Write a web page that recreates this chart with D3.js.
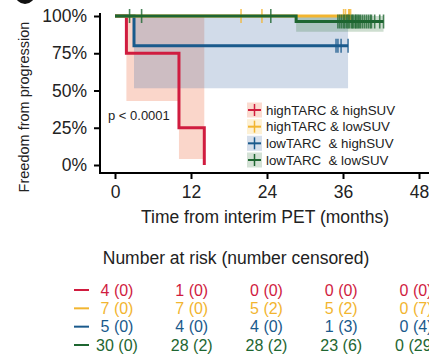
<!DOCTYPE html>
<html>
<head>
<meta charset="utf-8">
<script src="https://cdn.jsdelivr.net/npm/d3@7"></script>
<style>
  body { margin: 0; background: #fff; }
  svg text { font-family: "Liberation Sans", Arial, sans-serif; }
</style>
</head>
<body>
<div id="chart"></div>
<script>
// groups and colours
var groups = ["highTARC & highSUV", "highTARC & lowSUV", "lowTARC  & highSUV", "lowTARC  & lowSUV"];
var lineColors = ["#d01c3f", "#f2b530", "#1a5a8c", "#1e6631"];
var bandColors = ["#f4a58a", "#f8d27a", "#5b7fb0", "#3a7a45"];
var bandOpacity = [0.45, 0.35, 0.28, 0.25];

// step curves: [time (months), survival] at each change, last point = end of follow-up
var curveRed    = [[0, 1], [1.8, 0.75], [10.1, 0.25], [14.1, 0], [14.1, 0]];
var curveYellow = [[0, 1], [37.2, 1]];
var curveBlue   = [[0, 1], [3.0, 0.8], [36.8, 0.8]];
var curveGreen  = [[0, 1], [28.6, 0.963], [42.4, 0.963]];

// confidence bands: [time, lower, upper]
var bandRed    = [[1.8, 0.43, 1], [10.1, 0.04, 1], [14.1, 0.04, 1]];
var bandYellow = [];
var bandBlue   = [[3.0, 0.515, 1], [36.8, 0.515, 1]];
var bandGreen  = [[28.6, 0.895, 1], [42.4, 0.895, 1]];

// censoring times
var censRed    = [];
var censYellow = [19.9, 23.2, 36.1, 36.4, 36.9, 37.0, 37.2];
var censBlue   = [34.9, 35.2, 35.7, 36.8];
var censGreen  = [2.3, 4.2, 24.6, 35.2, 35.5, 35.8, 36.1, 36.3, 36.6, 36.8, 37.0, 37.3, 37.5, 37.6,
                  37.9, 38.0, 38.2, 38.4, 38.6, 38.8, 39.1, 39.4, 39.7, 40.0, 40.3, 40.5, 41.0, 41.8, 42.4];

// number at risk table
var xTicks = [0, 12, 24, 36, 48];
var yTicks = [0, 0.25, 0.5, 0.75, 1];
var riskRed    = ["4 (0)", "1 (0)", "0 (0)", "0 (0)", "0 (0)"];
var riskYellow = ["7 (0)", "7 (0)", "5 (2)", "5 (2)", "0 (7)"];
var riskBlue   = ["5 (0)", "4 (0)", "4 (0)", "1 (3)", "0 (4)"];
var riskGreen  = ["30 (0)", "28 (2)", "28 (2)", "23 (6)", "0 (29)"];

var curves = [curveRed, curveYellow, curveBlue, curveGreen];
var bands = [bandRed, bandYellow, bandBlue, bandGreen];
var cens = [censRed, censYellow, censBlue, censGreen];
var risk = [riskRed, riskYellow, riskBlue, riskGreen];

var width = 429, height = 356;
var textCol = "#222";

var svg = d3.select("#chart")
  .append("svg")
    .attr("width", width)
    .attr("height", height);

// scales
var x = d3.scaleLinear().domain([0, 48]).range([115, 419]);
var y = d3.scaleLinear().domain([0, 1]).range([165, 16]);
// the risk table columns sit a little tighter than the axis
var xTable = d3.scaleLinear().domain([0, 48]).range([117, 416]);

// survival value at time t for a step curve
function survAt(curve, t) {
  var s = curve[0][1];
  curve.forEach(function(p) { if (p[0] <= t) s = p[1]; });
  return s;
}

// panel letter (cut off at the top)
svg.append("circle").attr("cx", 25).attr("cy", -6).attr("r", 10).attr("fill", "#111");

// confidence bands
var area = d3.area()
  .curve(d3.curveStepAfter)
  .x(function(d) { return x(d[0]); })
  .y0(function(d) { return y(d[1]); })
  .y1(function(d) { return y(d[2]); });

bands.forEach(function(b, i) {
  if (!b.length) return;
  svg.append("path")
    .datum(b)
    .attr("d", area)
    .attr("fill", bandColors[i])
    .attr("fill-opacity", bandOpacity[i]);
});

// survival lines, drawn red, blue, yellow, green
var line = d3.line()
  .curve(d3.curveStepAfter)
  .x(function(d) { return x(d[0]); })
  .y(function(d) { return y(d[1]); });

[0, 2, 1, 3].forEach(function(i) {
  svg.append("path")
    .datum(curves[i])
    .attr("d", line)
    .attr("fill", "none")
    .attr("stroke", lineColors[i])
    .attr("stroke-width", 3);

  svg.selectAll(".cens" + i)
    .data(cens[i])
    .enter()
    .append("line")
      .attr("x1", function(d) { return x(d); })
      .attr("x2", function(d) { return x(d); })
      .attr("y1", function(d) { return y(survAt(curves[i], d)) - 7; })
      .attr("y2", function(d) { return y(survAt(curves[i], d)) + 7; })
      .attr("stroke", lineColors[i])
      .attr("stroke-opacity", 0.8)
      .attr("stroke-width", 1.6);
});

// axes
var yAxis = svg.append("g")
  .attr("transform", "translate(100,0)")
  .call(d3.axisLeft(y).tickValues(yTicks).tickFormat(d3.format(".0%")).tickSize(6).tickPadding(7).tickSizeOuter(0));
yAxis.select(".domain").remove();
svg.append("line").attr("x1", 100).attr("x2", 100).attr("y1", 13).attr("y2", 173)
  .attr("stroke", "#000").attr("stroke-width", 2);

var xAxis = svg.append("g")
  .attr("transform", "translate(0,173)")
  .call(d3.axisBottom(x).tickValues(xTicks).tickSize(6).tickPadding(7).tickSizeOuter(0));
xAxis.select(".domain").remove();
svg.append("line").attr("x1", 99).attr("x2", 429).attr("y1", 173).attr("y2", 173)
  .attr("stroke", "#000").attr("stroke-width", 2);

svg.selectAll(".tick line").attr("stroke", "#000").attr("stroke-width", 2);
svg.selectAll(".tick text").attr("fill", textCol).style("font-size", "17.5px");

// axis titles
svg.append("text")
  .attr("transform", "translate(29,107) rotate(-90)")
  .attr("text-anchor", "middle")
  .attr("fill", textCol)
  .style("font-size", "14.5px")
  .text("Freedom from progression");

svg.append("text")
  .attr("x", 265)
  .attr("y", 223)
  .attr("text-anchor", "middle")
  .attr("fill", textCol)
  .style("font-size", "17.5px")
  .text("Time from interim PET (months)");

// p value
svg.append("text")
  .attr("x", 108)
  .attr("y", 120)
  .attr("fill", textCol)
  .style("font-size", "13px")
  .text("p < 0.0001");

// legend
var legY = d3.scalePoint().domain(groups).range([110, 160]);
var leg = svg.selectAll(".leg")
  .data(groups)
  .enter()
  .append("g")
    .attr("transform", function(d) { return "translate(247," + legY(d) + ")"; });

leg.append("rect")
  .attr("x", 0).attr("y", -7.5).attr("width", 15).attr("height", 15)
  .attr("fill", function(d, i) { return bandColors[i]; })
  .attr("fill-opacity", function(d, i) { return bandOpacity[i] * 0.9; });
leg.append("line")
  .attr("x1", 1).attr("x2", 14).attr("y1", 0).attr("y2", 0)
  .attr("stroke", function(d, i) { return lineColors[i]; })
  .attr("stroke-width", 2);
leg.append("line")
  .attr("x1", 7.5).attr("x2", 7.5).attr("y1", -6).attr("y2", 6)
  .attr("stroke", function(d, i) { return lineColors[i]; })
  .attr("stroke-width", 1.5);
leg.append("text")
  .attr("x", 19)
  .attr("dy", "0.36em")
  .attr("fill", textCol)
  .style("font-size", "13.3px")
  .style("white-space", "pre")
  .attr("xml:space", "preserve")
  .text(function(d) { return d; });

// risk table
svg.append("text")
  .attr("x", 236)
  .attr("y", 264)
  .attr("text-anchor", "middle")
  .attr("fill", textCol)
  .style("font-size", "17.5px")
  .text("Number at risk (number censored)");

var rowY = d3.scalePoint().domain(groups).range([290, 345]);

groups.forEach(function(g, i) {
  svg.append("line")
    .attr("x1", 74).attr("x2", 89)
    .attr("y1", rowY(g)).attr("y2", rowY(g))
    .attr("stroke", lineColors[i])
    .attr("stroke-width", 2);

  svg.selectAll(".risk" + i)
    .data(risk[i])
    .enter()
    .append("text")
      .attr("x", function(d, j) { return xTable(xTicks[j]); })
      .attr("y", rowY(g))
      .attr("dy", "0.36em")
      .attr("text-anchor", "middle")
      .attr("fill", lineColors[i])
      .style("font-size", "16px")
      .text(function(d) { return d; });
});
</script>
</body>
</html>
